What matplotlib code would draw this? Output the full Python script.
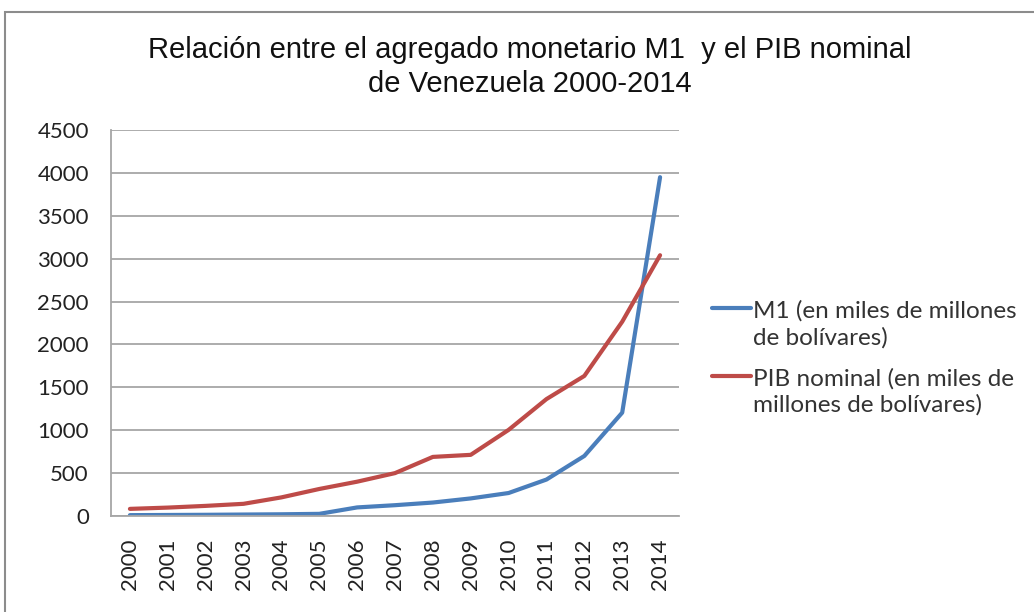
import matplotlib
matplotlib.use("Agg")
import matplotlib.pyplot as plt
from matplotlib.patches import Rectangle

years = ["2000", "2001", "2002", "2003", "2004", "2005", "2006", "2007",
         "2008", "2009", "2010", "2011", "2012", "2013", "2014"]
m1 = [10, 12, 14, 17, 20, 25, 100, 126, 157, 205, 268, 425, 700, 1205, 3950]
pib = [83, 98, 118, 142, 217, 315, 400, 500, 689, 713, 1004, 1363, 1633, 2265, 3040]
yticks = [0, 500, 1000, 1500, 2000, 2500, 3000, 3500, 4000, 4500]

title = "Relación entre el agregado monetario M1  y el PIB nominal\nde Venezuela 2000-2014"
lab_m1 = "M1 (en miles de millones\nde bolívares)"
lab_pib = "PIB nominal (en miles de\nmillones de bolívares)"

fig = plt.figure(figsize=(10.34, 6.12), dpi=100)
fig.patch.set_facecolor("white")
fig.patches.append(Rectangle((5 / 1034, -0.1), 1.2, 1 - 12 / 612 + 0.1,
                             transform=fig.transFigure, fill=False,
                             edgecolor="#8c8c8c", linewidth=1.5))

ax = fig.add_axes([111 / 1034, 1 - 516 / 612, 568 / 1034, 386 / 612])
x = list(range(len(years)))
ax.plot(x, m1, color="#4a7ebb", linewidth=3.0, label=lab_m1, solid_capstyle="round")
ax.plot(x, pib, color="#be4b48", linewidth=3.0, label=lab_pib, solid_capstyle="round")

ax.set_xlim(-0.5, len(years) - 0.5)
ax.set_ylim(0, 4500)
ax.set_yticks(yticks)
ax.set_yticklabels([str(v) for v in yticks], fontsize=16, family="Lato")
ax.set_xticks(x)
ax.set_xticklabels(years, rotation=90, fontsize=16, family="Lato")
ax.tick_params(axis="y", length=0, pad=16, colors="#222222")
ax.tick_params(axis="x", length=0, pad=16, colors="#222222")
ax.grid(axis="y", color="#a6a6a6", linewidth=1.3)
ax.set_axisbelow(True)
for s in ["top", "right"]:
    ax.spines[s].set_visible(False)
for s in ["bottom", "left"]:
    ax.spines[s].set_color("#a6a6a6")
    ax.spines[s].set_linewidth(1.3)

fig.text(530 / 1034, 1 - 67 / 612, title, ha="center", va="center", fontsize=21,
         family="Liberation Sans", color="#111111", linespacing=1.25)

leg = fig.legend(loc="upper left", bbox_to_anchor=(712 / 1034, 1 - 300 / 612),
                 frameon=False, prop={"family": "Lato", "size": 17.5},
                 handlelength=1.6, handletextpad=0.1, labelspacing=0.8,
                 borderaxespad=0, borderpad=0)
for t in leg.get_texts():
    t.set_color("#333333")
    t.set_linespacing(1.3)
for ln in leg.get_lines():
    yd = ln.get_ydata()
    ln.set_ydata([v + 11.5 for v in yd])
    ln.set_linewidth(3.0)

fig.savefig("out.png", dpi=100)
